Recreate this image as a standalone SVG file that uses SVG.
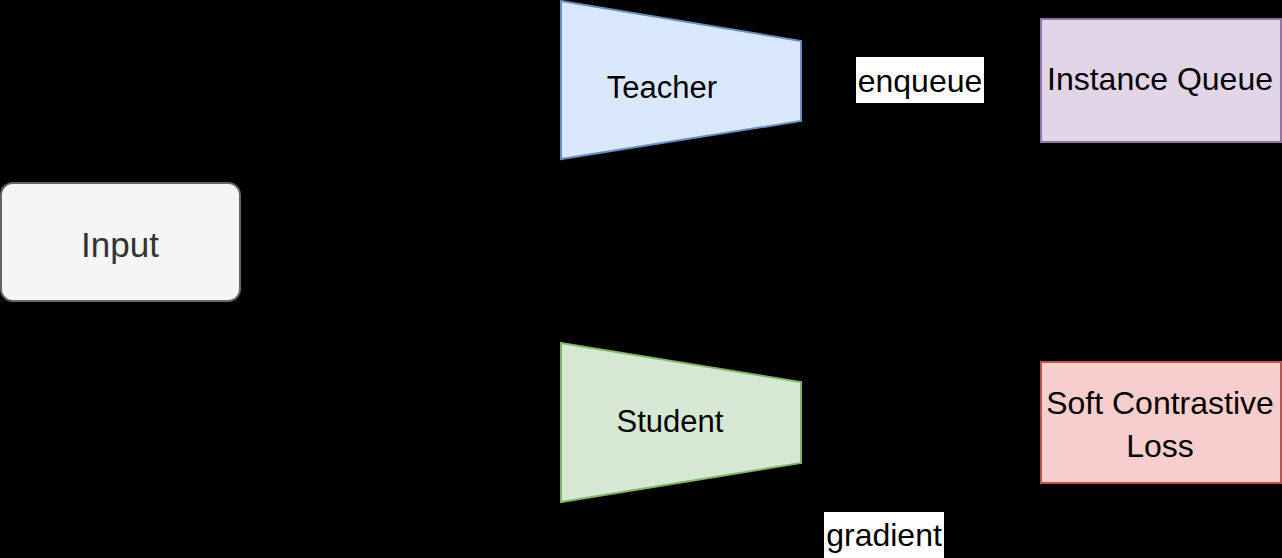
<svg xmlns="http://www.w3.org/2000/svg" width="1282" height="558" viewBox="0 0 1282 558">
  <style>
    .lbl { font-family: "Liberation Sans", Arial, sans-serif; font-size: 31px; fill: #000; text-anchor: middle; }
    .box { font-size: 32px; }
    .edge { fill: none; stroke: #000; stroke-width: 2; }
    .elbl { font-family: "Liberation Sans", Arial, sans-serif; font-size: 32px; fill: #000; text-anchor: middle; }
  </style>
  <defs>
    <marker id="arrow" viewBox="0 0 10 10" refX="9" refY="5" markerWidth="7" markerHeight="7" orient="auto">
      <path d="M0,1 L10,5 L0,9 z" fill="#000"/>
    </marker>
  </defs>

  <!-- canvas -->
  <rect x="0" y="0" width="1282" height="558" fill="#000"/>

  <!-- connectors -->
  <g id="connectors">
    <path class="edge" d="M240,212 H400 V81 H561" marker-end="url(#arrow)"/>
    <path class="edge" d="M240,268 H400 V422 H561" marker-end="url(#arrow)"/>
    <path class="edge" d="M801,81 H1040" marker-end="url(#arrow)"/>
    <path class="edge" d="M1160,142 V362" marker-end="url(#arrow)"/>
    <path class="edge" d="M801,422 H1040" marker-end="url(#arrow)"/>
    <path class="edge" d="M1160,483 V535 H681 V484" marker-end="url(#arrow)"/>
    <rect x="856" y="57" width="128" height="46" fill="#fff"/>
    <text class="elbl" x="920" y="92">enqueue</text>
    <rect x="824" y="512" width="120" height="46" fill="#fff"/>
    <text class="elbl" x="884" y="546">gradient</text>
  </g>

  <g id="input">
    <rect x="1" y="183" width="239" height="118" rx="12" fill="#f5f5f5" stroke="#666" stroke-width="2"/>
    <text class="lbl" x="120" y="257" style="fill:#333;font-size:35px">Input</text>
  </g>

  <g id="teacher">
    <polygon points="561,1 801,41 801,121 561,159" fill="#dae8fc" stroke="#6c8ebf" stroke-width="2"/>
    <text class="lbl" x="662" y="98">Teacher</text>
  </g>

  <g id="student">
    <polygon points="561,343 801,382 801,463 561,502" fill="#d5e8d4" stroke="#82b366" stroke-width="2"/>
    <text class="lbl" x="670" y="432">Student</text>
  </g>

  <g id="instance-queue">
    <rect x="1041" y="19" width="240" height="123" fill="#e1d5e7" stroke="#9673a6" stroke-width="2"/>
    <text class="lbl box" x="1160" y="90">Instance Queue</text>
  </g>

  <g id="soft-contrastive-loss">
    <rect x="1041" y="362" width="240" height="121" fill="#f8cecc" stroke="#b85450" stroke-width="2"/>
    <text class="lbl box" x="1160" y="414">Soft Contrastive</text>
    <text class="lbl box" x="1160" y="457">Loss</text>
  </g>
</svg>
